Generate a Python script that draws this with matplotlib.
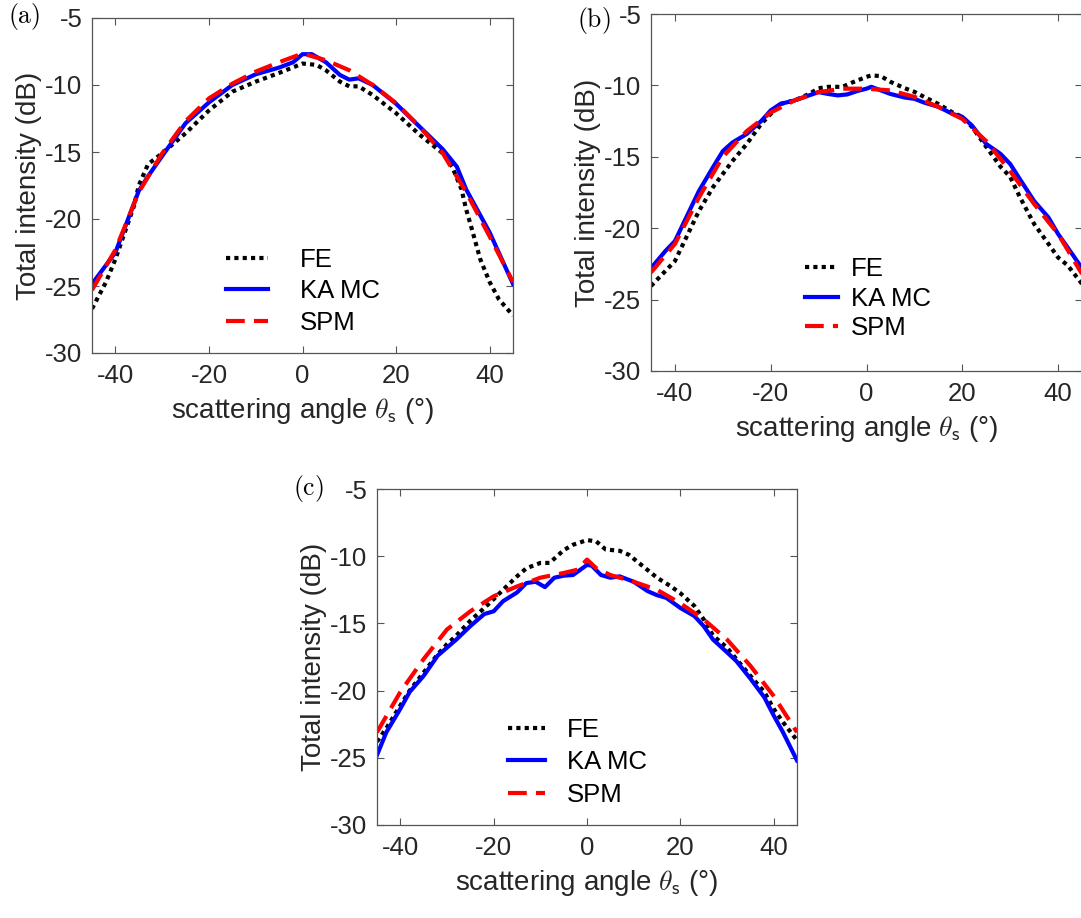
import numpy as np
import matplotlib
matplotlib.use("Agg")
import matplotlib.pyplot as plt

plt.rcParams['font.family'] = ['Liberation Sans', 'DejaVu Sans']
plt.rcParams['mathtext.fontset'] = 'cm'

# ---------------- data ----------------
# Panel (a)
a_fe_x = [-45, -42, -40, -38, -36, -35, -33, -30, -25, -20, -15, -10, -5, 0, 3, 5, 8, 10, 12, 15, 20, 25, 30, 32, 34, 35, 36, 38, 40, 42, 45]
a_fe_y = [-26.7, -24.7, -23.0, -21.0, -19.0, -17.5, -15.9, -15.1, -13.6, -11.9, -10.5, -9.75, -9.1, -8.4, -8.5, -8.9, -9.75, -10.1, -10.1, -10.75, -12.1, -13.7, -15.1, -16.1, -17.8, -19.3, -20.5, -23.0, -24.7, -26.0, -27.2]
a_ka_x = [-45, -40, -35, -33, -30, -25, -20, -15, -10, -5, -2, 0, 2, 5, 8, 10, 12, 15, 20, 25, 30, 33, 35, 40, 45]
a_ka_y = [-24.85, -22.5, -17.9, -16.8, -15.3, -12.85, -11.3, -10.0, -9.2, -8.7, -8.3, -7.7, -7.7, -8.3, -9.25, -9.6, -9.5, -10.0, -11.4, -13.1, -14.8, -16.1, -17.8, -21.0, -24.85]
a_spm_x = [-45, -40, -35, -30, -25, -20, -15, -10, -5, 0, 5, 10, 15, 20, 25, 30, 35, 40, 45]
a_spm_y = [-25.3, -22.3, -18.0, -15.1, -12.7, -11.0, -9.9, -9.0, -8.3, -7.65, -8.15, -8.9, -10.0, -11.35, -13.1, -15.1, -18.0, -21.3, -24.7]

# Panel (b)
b_x = [-45, -42, -40, -38, -35, -32, -30, -28, -25, -22, -20, -18, -15, -12, -10, -8, -6, -4, -2, 0, 1, 3, 5, 8, 10, 12, 15, 18, 20, 22, 25, 28, 30, 32, 35, 38, 40, 42, 45]
b_ka_y = [-22.8, -21.6, -20.9, -19.5, -17.4, -15.7, -14.6, -14.0, -13.4, -12.5, -11.75, -11.3, -11.05, -10.7, -10.47, -10.6, -10.7, -10.63, -10.4, -10.23, -10.1, -10.35, -10.6, -10.85, -10.94, -11.2, -11.5, -12.0, -12.2, -12.8, -14.1, -14.8, -15.5, -16.55, -18.1, -19.25, -20.4, -21.35, -22.8]
b_fe_x = [-45, -42, -40, -38, -35, -32, -30, -28, -25, -22, -20, -18, -15, -12, -10, -8, -5, -3, 0, 1, 3, 5, 8, 10, 12, 15, 18, 20, 22, 25, 28, 30, 32, 35, 38, 40, 42, 45]
b_fe_y = [-24.05, -23.0, -22.3, -20.9, -18.8, -17.1, -16.2, -15.3, -14.1, -12.7, -12.0, -11.3, -11.05, -10.6, -10.2, -10.1, -10.1, -9.8, -9.4, -9.3, -9.35, -9.75, -10.2, -10.45, -10.8, -11.3, -11.9, -12.2, -12.9, -14.3, -15.7, -16.4, -17.8, -19.7, -21.1, -22.05, -22.6, -23.9]
b_spm_x = [-45, -40, -35, -30, -25, -20, -15, -10, -5, 0, 5, 10, 15, 20, 25, 30, 35, 40, 45]
b_spm_y = [-23.1, -21.1, -17.85, -15.0, -13.2, -11.9, -11.05, -10.47, -10.23, -10.23, -10.35, -10.8, -11.5, -12.35, -13.9, -16.0, -18.3, -20.4, -23.2]

# Panel (c)
c_ka_x = [-45, -43, -40, -38, -35, -32, -30, -28, -25, -22, -20, -18, -15, -13, -11, -9, -7, -5, -3, -1, 0, 1, 3, 5, 7, 10, 13, 15, 17, 20, 23, 25, 27, 30, 32, 35, 38, 40, 42, 45]
c_ka_y = [-24.8, -23.1, -21.35, -20.1, -18.9, -17.4, -16.8, -16.2, -15.2, -14.3, -14.1, -13.35, -12.7, -12.0, -11.9, -12.3, -11.6, -11.45, -11.4, -10.9, -10.65, -10.7, -11.4, -11.6, -11.5, -11.9, -12.6, -12.9, -13.1, -13.85, -14.45, -15.2, -16.2, -17.15, -17.8, -19.1, -20.5, -21.85, -23.1, -25.2]
c_fe_x = [-45, -43, -40, -38, -35, -32, -30, -28, -25, -22, -20, -18, -15, -13, -10, -8, -5, -3, 0, 2, 4, 7, 9, 12, 15, 18, 20, 23, 25, 27, 30, 32, 35, 38, 40, 42, 45]
c_fe_y = [-23.8, -22.8, -21.1, -20.0, -18.65, -17.3, -16.55, -15.9, -14.8, -13.85, -13.2, -12.5, -11.5, -10.9, -10.5, -10.5, -9.55, -9.15, -8.8, -8.9, -9.5, -9.6, -9.9, -10.75, -11.6, -12.25, -12.75, -13.7, -14.7, -15.9, -16.8, -17.65, -18.9, -20.1, -21.35, -22.35, -23.7]
c_spm_x = [-45, -40, -35, -30, -25, -20, -15, -10, -5, -2, 0, 2, 5, 10, 15, 20, 25, 30, 35, 40, 45]
c_spm_y = [-23.1, -20.1, -17.65, -15.45, -14.1, -12.98, -12.25, -11.6, -11.25, -11.0, -10.25, -10.9, -11.4, -11.9, -12.5, -13.5, -14.7, -16.2, -18.15, -20.4, -23.1]

labels = ['FE', 'KA MC', 'SPM']
xticks = [-40, -20, 0, 20, 40]
yticks = [-30, -25, -20, -15, -10, -5]

# ---------------- figure ----------------
W, H = 1081, 918
fig = plt.figure(figsize=(W / 100, H / 100), dpi=100)

def rect(l, r, t, b):
    return [l / W, 1 - b / H, (r - l) / W, (b - t) / H]

TXT = '#262626'
TFS = 18.5   # tick / legend font
LFS = 20     # axis label font

def style(ax):
    ax.set_xlim(-45, 45)
    ax.set_ylim(-30, -5)
    ax.set_xticks(xticks)
    ax.set_yticks(yticks)
    ax.set_yticklabels([str(v) for v in yticks])
    ax.set_xticklabels([str(v) for v in xticks])
    ax.tick_params(direction='in', top=True, right=True, length=5, width=0.8,
                   colors='#555555', labelcolor=TXT, labelsize=TFS)
    ax.tick_params(axis='x', pad=8)
    ax.tick_params(axis='y', pad=7)
    for s in ax.spines.values():
        s.set_color('#555555')
        s.set_linewidth(0.9)
    ax.set_xlabel(r'scattering angle $\theta_{\mathsf{s}}$ (°)', fontsize=LFS, color=TXT, labelpad=6)
    ax.set_ylabel('Total intensity (dB)', fontsize=LFS, color=TXT, labelpad=2)

def draw(ax, fe, ka, spm, leg_anchor, lsp, hl, htp):
    l1, = ax.plot(fe[0], fe[1], color='black', lw=3.0, linestyle=(0, (1, 1)), dash_capstyle='butt')
    l2, = ax.plot(ka[0], ka[1], color='#0000ff', lw=3.0, solid_joinstyle='round')
    l3, = ax.plot(spm[0], spm[1], color='#ff0000', lw=3.0, linestyle=(0, (4.5, 2.2)), dash_capstyle='butt')
    ax.legend([l1, l2, l3], labels, loc='upper left', bbox_to_anchor=leg_anchor,
              frameon=False, fontsize=TFS, handlelength=hl, handletextpad=htp,
              labelspacing=lsp, borderpad=0, borderaxespad=0)

axa = fig.add_axes(rect(92, 513, 18, 353))
style(axa)
draw(axa, (a_fe_x, a_fe_y), (a_ka_x, a_ka_y), (a_spm_x, a_spm_y), (0.318, 0.313), 0.28, 1.62, 1.25)

axb = fig.add_axes(rect(651, 1082, 14, 371))
style(axb)
draw(axb, (b_fe_x, b_fe_y), (b_x, b_ka_y), (b_spm_x, b_spm_y), (0.357, 0.318), 0.2, 1.3, 0.5)

axc = fig.add_axes(rect(377, 797, 489, 825))
style(axc)
draw(axc, (c_fe_x, c_fe_y), (c_ka_x, c_ka_y), (c_spm_x, c_spm_y), (0.312, 0.318), 0.32, 1.45, 0.85)

fig.text(8 / W, 1 - 17 / H, r'$\mathrm{(a)}$', fontsize=18.5, va='center', ha='left')
fig.text(577 / W, 1 - 20 / H, r'$\mathrm{(b)}$', fontsize=18.5, va='center', ha='left')
fig.text(293 / W, 1 - 488 / H, r'$\mathrm{(c)}$', fontsize=18.5, va='center', ha='left')

fig.savefig('out.png', dpi=100)
